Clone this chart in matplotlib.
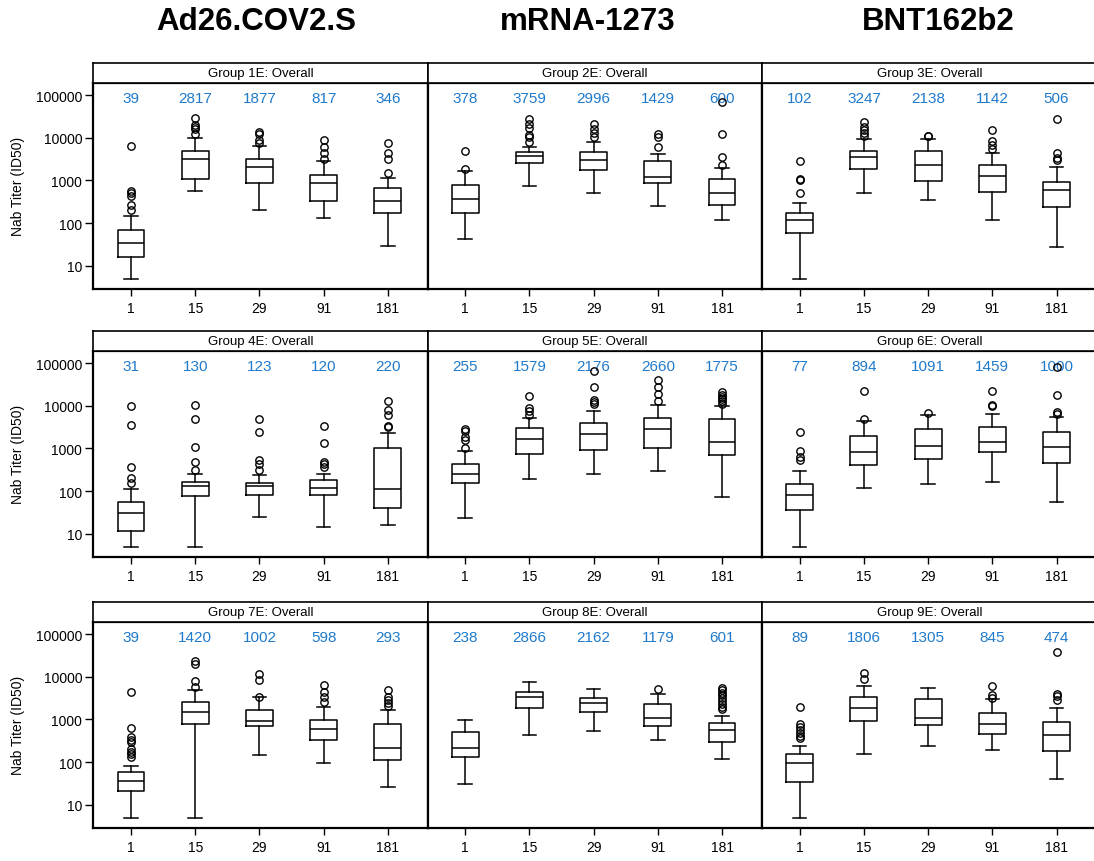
import matplotlib
matplotlib.use("Agg")
import matplotlib.pyplot as plt
from matplotlib.ticker import FixedLocator, NullLocator, FixedFormatter

plt.rcParams['font.family'] = ['Liberation Sans', 'DejaVu Sans']

vaccines = ["Ad26.COV2.S", "mRNA-1273", "BNT162b2"]
groups = ["Group 1E: Overall", "Group 2E: Overall", "Group 3E: Overall",
          "Group 4E: Overall", "Group 5E: Overall", "Group 6E: Overall",
          "Group 7E: Overall", "Group 8E: Overall", "Group 9E: Overall"]
days = ["1", "15", "29", "91", "181"]
y_ticks = [10, 100, 1000, 10000, 100000]
y_label = "Nab Titer (ID50)"

whisker_low = [
    [5, 571, 204, 135, 29.6],
    [42.4, 722, 503, 258, 119],
    [5, 503, 357, 119, 28],
    [5, 5, 24.1, 14.1, 16.3],
    [22.9, 191, 255, 289, 73.6],
    [5, 120, 146, 166, 55.2],
    [5, 5, 148, 96, 26.4],
    [29.9, 434, 538, 337, 119],
    [5, 156, 236, 197, 40.6],
]
quartile1 = [
    [15.7, 1075, 865, 327, 177],
    [177, 2606, 1718, 865, 272],
    [59.7, 1883, 982, 531, 236],
    [11.5, 77.8, 79.1, 79, 39.2],
    [157, 750, 931, 1019, 711],
    [35.9, 407, 573, 806, 461],
    [20.9, 800, 705, 331, 111],
    [135, 1825, 1496, 705, 292],
    [34.5, 923, 757, 467, 183],
]
median = [
    [34.8, 3236, 2023, 881, 333],
    [364, 3670, 3062, 1177, 503],
    [121, 3475, 2254, 1242, 582],
    [30.5, 131, 131, 117, 111],
    [255, 1655, 2130, 2890, 1407],
    [79.2, 820, 1155, 1407, 1075],
    [35.2, 1524, 939, 589, 219],
    [219, 3420, 2477, 1064, 578],
    [97.7, 1893, 1064, 771, 442],
]
quartile3 = [
    [67.8, 4898, 3236, 1312, 661],
    [762, 4560, 4560, 2850, 1075],
    [170, 4898, 4898, 2254, 931],
    [55.2, 162, 157, 178, 1000],
    [437, 3000, 3925, 5140, 4870],
    [146, 1980, 2840, 3220, 2415],
    [59.2, 2566, 1698, 973, 800],
    [501, 4480, 3241, 2264, 813],
    [156, 3420, 2965, 1420, 889],
]
whisker_high = [
    [145, 9730, 6430, 2800, 1156],
    [1629, 6080, 7980, 4240, 1987],
    [288, 9220, 9220, 4477, 2023],
    [115, 250, 233, 255, 2287],
    [866, 5230, 7370, 10370, 9820],
    [289, 4300, 5930, 6380, 5330],
    [78.9, 4898, 3420, 1995, 1698],
    [991, 7670, 5080, 3950, 1230],
    [236, 5970, 5560, 3020, 1825],
]
outliers = [
    [[208, 272, 443, 503, 551, 6300], [11900, 15800, 18000, 19700, 29300],
     [7690, 8730, 11900, 13700], [3236, 4480, 6080, 9060], [1514, 3236, 4395, 7430]],
    [[1883, 4898], [7830, 10280, 11460, 17000, 20400, 27200],
     [10470, 13200, 15850, 20800], [5970, 10470, 11890], [2340, 3475, 12080, 69700]],
    [[503, 1000, 1094, 2850], [11040, 13000, 15560, 18000, 22750],
     [10800, 11250], [5560, 6900, 8270, 15000], [2958, 3410, 4477, 27200]],
    [[157, 205, 359, 3459, 9640], [316, 470, 1075, 4870, 10370],
     [316, 438, 542, 2460, 4870], [365, 422, 479, 1309, 3280], [3100, 3340, 5930, 8060, 12860]],
    [[1037, 1540, 1845, 2500, 2790], [6150, 7500, 8970, 16870],
     [10950, 12400, 13830, 27400, 63800], [12860, 18450, 26900, 39260],
     [11140, 12650, 14070, 15960, 18120, 20900]],
    [[534, 638, 866, 2460], [4960, 22500], [6600], [9640, 10550, 22500], [6270, 7110, 18120, 79100]],
    [[130, 153, 177, 204, 292, 337, 383, 621, 4480], [5860, 8090, 19500, 23800],
     [3420, 8550, 11590], [2520, 3300, 4400, 6410], [2030, 2390, 2860, 3300, 4810]],
    [[], [], [], [5260], [1730, 1995, 2305, 2755, 3180, 3675, 4245, 4900, 5455]],
    [[362, 418, 491, 567, 679, 785, 1995], [8850, 12450], [],
     [3240, 3810, 5970], [2860, 3610, 4020, 38600]],
]
gmt_labels = [
    ["39", "2817", "1877", "817", "346"],
    ["378", "3759", "2996", "1429", "600"],
    ["102", "3247", "2138", "1142", "506"],
    ["31", "130", "123", "120", "220"],
    ["255", "1579", "2176", "2660", "1775"],
    ["77", "894", "1091", "1459", "1000"],
    ["39", "1420", "1002", "598", "293"],
    ["238", "2866", "2162", "1179", "601"],
    ["89", "1806", "1305", "845", "474"],
]

W, H = 1094, 862
fig = plt.figure(figsize=(W / 100, H / 100), dpi=100)

col_left = [93.3, 427.5, 762.0]
panel_w = 334.5
row_top = [84.3, 352.3, 623.3]
panel_h = 205.2
strip_h = 20.5
blue = "#1f7acb"

for i in range(9):
    r, c = divmod(i, 3)
    x0 = col_left[c]
    ytop = row_top[r]
    ax = fig.add_axes([x0 / W, 1 - (ytop + panel_h) / H, panel_w / W, panel_h / H])
    sax = fig.add_axes([x0 / W, 1 - ytop / H, panel_w / W, strip_h / H])

    stats = []
    for j in range(5):
        stats.append(dict(whislo=whisker_low[i][j], q1=quartile1[i][j], med=median[i][j],
                          q3=quartile3[i][j], whishi=whisker_high[i][j],
                          fliers=outliers[i][j], label=days[j]))
    ax.bxp(stats, positions=range(1, 6), widths=0.42, showfliers=True,
           boxprops=dict(color="black", linewidth=1.1),
           medianprops=dict(color="black", linewidth=1.1),
           whiskerprops=dict(color="black", linewidth=1.1),
           capprops=dict(color="black", linewidth=1.1),
           flierprops=dict(marker="o", markersize=5.3, markerfacecolor="none",
                           markeredgecolor="black", markeredgewidth=1.0))
    ax.set_yscale("log")
    ax.set_ylim(2.94, 1.88e5)
    ax.set_xlim(0.413, 5.623)
    ax.yaxis.set_major_locator(FixedLocator(y_ticks))
    ax.yaxis.set_minor_locator(NullLocator())
    ax.set_xticks(range(1, 6))
    ax.set_xticklabels(days, fontsize=10)
    ax.tick_params(axis="x", length=5, width=1, pad=4, direction="out")
    ax.tick_params(axis="y", length=6, width=1, pad=2, direction="out")
    if c == 0:
        ax.yaxis.set_major_formatter(FixedFormatter([str(t) for t in y_ticks]))
        ax.tick_params(axis="y", labelsize=10)
        ax.set_ylabel(y_label, fontsize=10, labelpad=8)
    else:
        ax.tick_params(axis="y", left=False, labelleft=False)
    for s in ax.spines.values():
        s.set_linewidth(1.6)
    for j in range(5):
        ax.text(j + 1, 0.928, gmt_labels[i][j], transform=ax.get_xaxis_transform(),
                ha="center", va="center", color=blue, fontsize=11, zorder=1)

    sax.set_xticks([])
    sax.set_yticks([])
    for s in sax.spines.values():
        s.set_linewidth(1.2)
    sax.text(0.5, 0.48, groups[i], ha="center", va="center", fontsize=9.5, transform=sax.transAxes)

title_x = [256, 588, 938]
for c in range(3):
    fig.text(title_x[c] / W, 1 - 22 / H, vaccines[c], ha="center", va="center",
             fontsize=22.5, fontweight="bold")

fig.savefig("out.png", dpi=100)
